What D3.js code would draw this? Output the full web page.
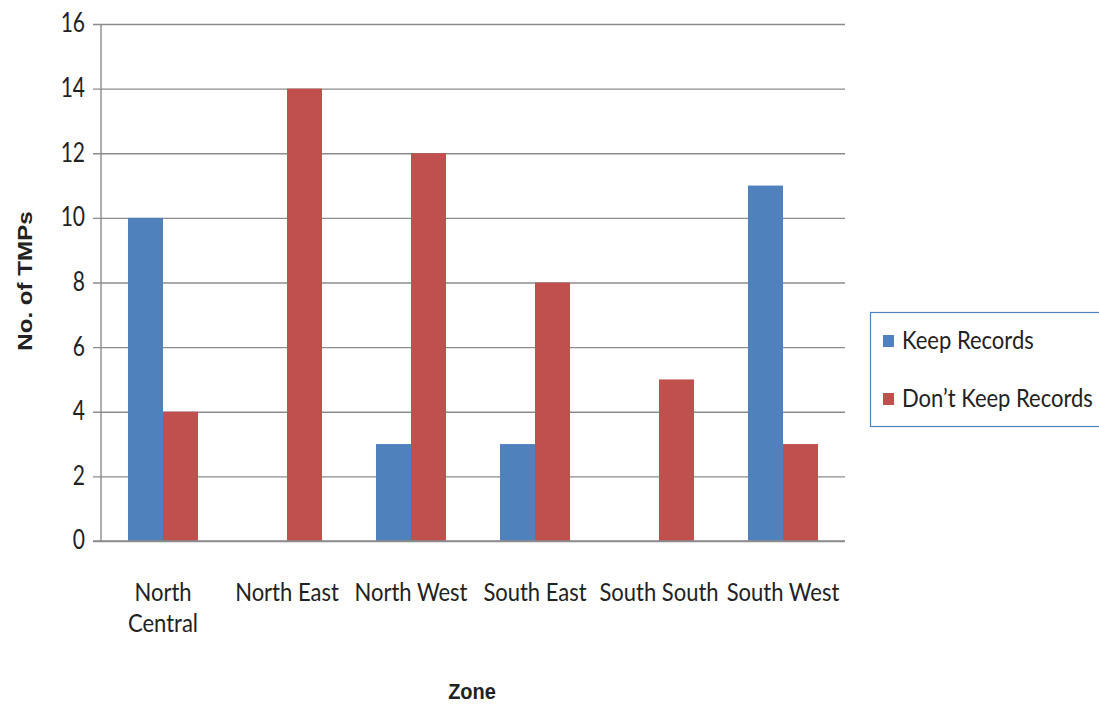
<!DOCTYPE html>
<html>
<head>
<meta charset="utf-8">
<script src="https://cdn.jsdelivr.net/npm/d3@7"></script>
<style>
  html, body { margin: 0; padding: 0; background: #fff; }
  svg { display: block; }
  text { font-family: Lato, "Open Sans", sans-serif; fill: #222; }
</style>
</head>
<body>
<svg id="chart" width="1099" height="704"></svg>
<script>
// Zones surveyed and record-keeping counts per zone
const zones = ["North Central", "North East", "North West", "South East", "South South", "South West"];
const zoneLines = [["North", "Central"], ["North East"], ["North West"], ["South East"], ["South South"], ["South West"]];
const keepRecords = [10, 0, 3, 3, 0, 11];
const dontKeepRecords = [4, 14, 12, 8, 5, 3];
const seriesNames = ["Keep Records", "Don\u2019t Keep Records"];
const seriesColors = ["#4F81BD", "#C0504D"];
const yTicks = [0, 2, 4, 6, 8, 10, 12, 14, 16];

const svg = d3.select("#chart");
const plotLeft = 101, plotRight = 845, plotTop = 24, plotBottom = 541;
const gridColor = "#8c8c8c";

const x = d3.scaleBand().domain(zones).range([plotLeft, plotRight]).paddingInner(0).paddingOuter(0);
const inner = d3.scaleBand().domain([0, 1]).range([0, x.bandwidth()]).paddingOuter(0.77).paddingInner(0);
const y = d3.scaleLinear().domain([0, 16]).range([plotBottom, plotTop]);

// Horizontal gridlines with ticks protruding left of the axis
const yAxis = d3.axisLeft(y).tickValues(yTicks).tickSize(-(plotRight - plotLeft)).tickPadding(16).tickFormat(d3.format("d"));
const gy = svg.append("g").attr("transform", `translate(${plotLeft},0)`).call(yAxis);
gy.select(".domain").remove();
gy.selectAll(".tick line").attr("stroke", gridColor).attr("stroke-width", 1.4).attr("x1", -8);
gy.selectAll(".tick text")
  .attr("font-size", 21).style("font-family", "Lato, sans-serif").attr("fill", "#222")
  .attr("dy", "0.3em").attr("transform", "scale(1,1.25)");

// Vertical axis line
svg.append("line").attr("x1", plotLeft).attr("x2", plotLeft).attr("y1", plotTop).attr("y2", plotBottom)
  .attr("stroke", gridColor).attr("stroke-width", 1.4);

// Bars
const series = [keepRecords, dontKeepRecords];
series.forEach((vals, si) => {
  svg.append("g").selectAll("rect").data(vals).join("rect")
    .attr("x", (d, i) => x(zones[i]) + inner(si))
    .attr("width", inner.bandwidth())
    .attr("y", d => y(d))
    .attr("height", d => y(0) - y(d))
    .attr("fill", seriesColors[si]);
});

// Baseline drawn over the bars
svg.append("line").attr("x1", plotLeft - 8).attr("x2", plotRight).attr("y1", y(0)).attr("y2", y(0))
  .attr("stroke", gridColor).attr("stroke-width", 1.4);

// Category labels (slightly tall, condensed look)
const cat = svg.append("g");
zones.forEach((z, i) => {
  const cx = x(z) + x.bandwidth() / 2;
  zoneLines[i].forEach((line, li) => {
    cat.append("text").attr("text-anchor", "middle").attr("font-size", 22)
      .attr("transform", `translate(${cx},${601 + li * 31}) scale(1,1.1)`)
      .text(line);
  });
});

// Axis titles
svg.append("text").attr("text-anchor", "middle")
  .attr("transform", "translate(472,699) scale(1,1.1)")
  .attr("font-size", 20).attr("font-weight", "bold").style("font-family", "'Liberation Sans', Arial, sans-serif").text("Zone");
svg.append("text").attr("transform", "translate(32,281) rotate(-90) scale(1.15,1)").attr("text-anchor", "middle")
  .attr("font-size", 21).attr("font-weight", "bold").style("font-family", "'Liberation Sans', Arial, sans-serif").text("No. of TMPs");

// Legend
const lg = svg.append("g");
lg.append("rect").attr("x", 870.5).attr("y", 312.5).attr("width", 240).attr("height", 114)
  .attr("fill", "#fff").attr("stroke", "#4F81BD").attr("stroke-width", 1.2);
seriesNames.forEach((name, i) => {
  const cy = 341 + i * 58;
  lg.append("rect").attr("x", 883).attr("y", cy - 6).attr("width", 11).attr("height", 12).attr("fill", seriesColors[i]);
  lg.append("text").attr("font-size", 22)
    .attr("transform", `translate(902,${cy + 8}) scale(1,1.1)`).text(name);
});
</script>
</body>
</html>
